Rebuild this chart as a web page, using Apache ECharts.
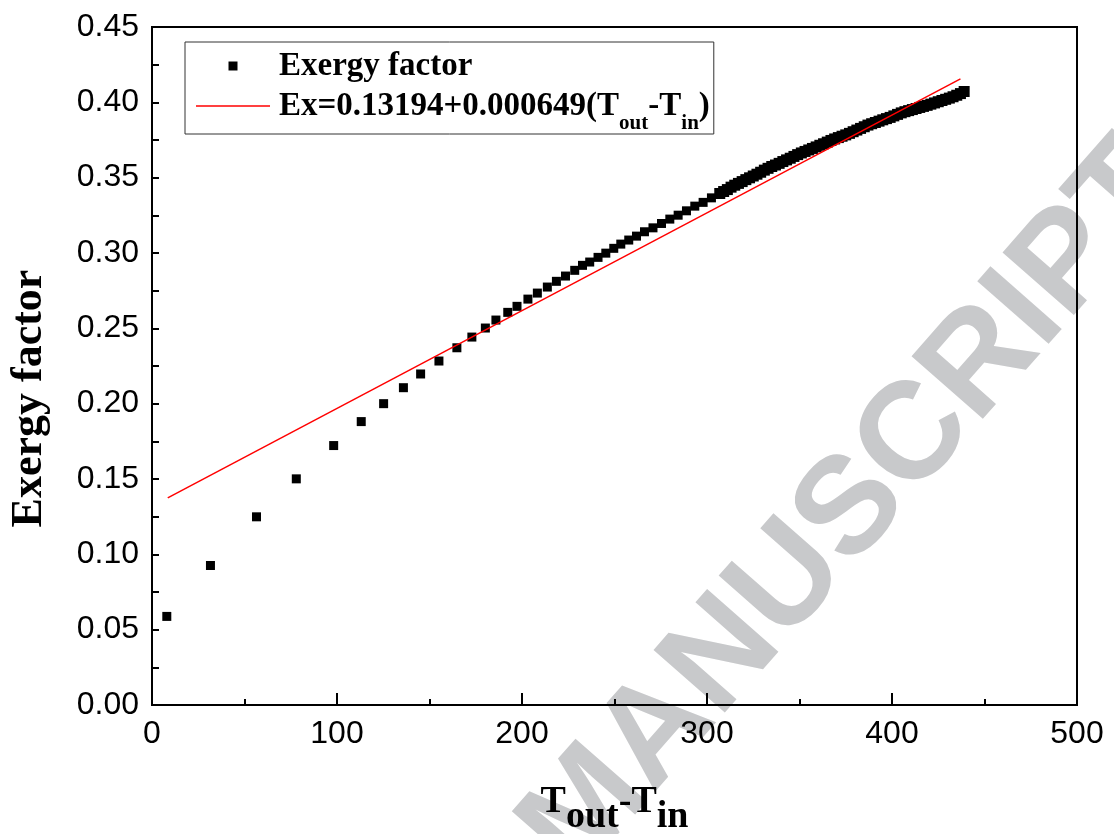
<!DOCTYPE html>
<html>
<head>
<meta charset="utf-8">
<script src="https://cdn.jsdelivr.net/npm/echarts@6/dist/echarts.min.js"></script>
<style>
html,body{margin:0;padding:0;background:#ffffff;}
#chart{width:1114px;height:834px;}
</style>
</head>
<body>
<div id="chart"></div>
<script>
// ---- data ----
const deltaT = [
  8.0, 31.6, 56.5, 78.0, 98.2, 113.1, 125.2, 135.9, 145.2, 155.1,
  164.8, 172.9, 180.2, 185.9, 192.3, 197.3, 203.2, 208.3, 213.7, 218.6,
  223.5, 228.5, 232.7, 236.6, 241.1, 245.3, 249.6, 253.4, 257.7, 261.9,
  266.2, 270.8, 275.4, 279.9, 284.4, 288.9, 293.4, 297.9, 302.4, 306.9,
  309, 311, 313, 315, 317, 319, 321, 323, 325, 327,
  329, 331, 333, 335, 337, 339, 341, 343, 345, 347,
  349, 351, 353, 355, 357, 359, 361, 363, 365, 367,
  369, 371, 373, 375, 377, 379, 381, 383, 385, 387,
  389, 391, 393, 395, 397, 399, 401, 403, 405, 407,
  409, 411, 413, 415, 417, 419, 421, 423, 425, 427,
  429, 431, 433, 435, 437, 439
];
const exergyFactor = [
  0.0588, 0.0926, 0.1249, 0.1501, 0.1722, 0.1881, 0.2000, 0.2106, 0.2197, 0.2283,
  0.2371, 0.2442, 0.2502, 0.2555, 0.2606, 0.2646, 0.2694, 0.2734, 0.2774, 0.2812,
  0.2847, 0.2885, 0.2918, 0.2940, 0.2971, 0.2999, 0.3031, 0.3059, 0.3086, 0.3112,
  0.3141, 0.3167, 0.3196, 0.3225, 0.3251, 0.3280, 0.3311, 0.3336, 0.3366, 0.3395,
  0.3408, 0.3421, 0.3437, 0.3450, 0.3462, 0.3474, 0.3487, 0.3499, 0.3511, 0.3523,
  0.3536, 0.3550, 0.3562, 0.3574, 0.3584, 0.3595, 0.3607, 0.3618, 0.3629, 0.3641,
  0.3653, 0.3664, 0.3674, 0.3684, 0.3694, 0.3704, 0.3715, 0.3725, 0.3736, 0.3747,
  0.3757, 0.3766, 0.3775, 0.3784, 0.3794, 0.3805, 0.3816, 0.3827, 0.3838, 0.3849,
  0.3858, 0.3866, 0.3875, 0.3884, 0.3892, 0.3900, 0.3910, 0.3920, 0.3930, 0.3938,
  0.3945, 0.3952, 0.3959, 0.3966, 0.3973, 0.3980, 0.3988, 0.3996, 0.4004, 0.4012,
  0.4020, 0.4028, 0.4037, 0.4047, 0.4058, 0.4072
];
// fitted line end points (as drawn)
const fitDeltaT = [8.5, 437.0];
const fitExergy = [0.1375, 0.4156];

const xTickLabels = ['0', '100', '200', '300', '400', '500'];
const yTickLabels = ['0.00','0.05','0.10','0.15','0.20','0.25','0.30','0.35','0.40','0.45'];

const scatterName = 'Exergy factor';
const fitName = 'Ex=0.13194+0.000649(Tout-Tin)';

// ---- chart ----
const chart = echarts.init(document.getElementById('chart'), null, {renderer: 'canvas'});
const serif = '"Liberation Serif", "Times New Roman", serif';
const sans = '"Liberation Sans", Arial, sans-serif';

const scatterData = deltaT.map((x, i) => [x, exergyFactor[i]]);
const fitData = fitDeltaT.map((x, i) => [x, fitExergy[i]]);

const legendMain = {fontFamily: serif, fontWeight: 'bold', fontSize: 33, color: '#000', lineHeight: 36, verticalAlign: 'middle'};

const option = {
  backgroundColor: '#ffffff',
  animation: false,
  grid: {
    left: 152, right: 37, top: 27, bottom: 129,
    show: true, borderColor: '#000', borderWidth: 2,
    containLabel: false, outerBoundsMode: 'none'
  },
  legend: {
    orient: 'vertical',
    left: 185, top: 42,
    borderColor: '#333', borderWidth: 1,
    padding: [6, 4, 0, 11],
    itemWidth: 74, itemHeight: 9, itemGap: 4,
    symbolKeepAspect: true,
    textStyle: {
      fontFamily: serif, fontWeight: 'bold', fontSize: 33, color: '#000',
      lineHeight: 36,
      rich: {
        f: Object.assign({}, legendMain, {padding: [0, 0, 0, 4]}),
        m: legendMain,
        s: {fontFamily: serif, fontWeight: 'bold', fontSize: 21, color: '#000', lineHeight: 1, verticalAlign: 'top', padding: [25, 0, 0, 0]}
      }
    },
    formatter: function (name) {
      if (name === fitName) {
        return '{f|Ex=0.13194+0.000649(T}{s|out}{m|-T}{s|in}{m|)}';
      }
      return '{f|' + name + '}';
    },
    data: [
      {name: scatterName, icon: 'path://M0 0H8V8H0Z', itemStyle: {color: '#000'}},
      {name: fitName, icon: 'path://M0 0H74V1.5H0Z', itemStyle: {color: '#ff0000'}}
    ]
  },
  xAxis: {
    type: 'value', min: 0, max: 500, interval: 100,
    name: '{m|T}{s|out}{m|-T}{s|in}',
    nameLocation: 'middle', nameGap: 76,
    nameTextStyle: {
      rich: {
        m: {fontFamily: serif, fontWeight: 'bold', fontSize: 38, color: '#000', lineHeight: 42, verticalAlign: 'middle'},
        s: {fontFamily: serif, fontWeight: 'bold', fontSize: 38, color: '#000', lineHeight: 1, verticalAlign: 'top', padding: [17, 0, 0, 0]}
      }
    },
    axisLine: {show: true, onZero: false, lineStyle: {color: '#000', width: 2}},
    axisTick: {show: true, inside: true, length: 12, lineStyle: {color: '#000', width: 2}},
    minorTick: {show: true, splitNumber: 2, length: 6, lineStyle: {color: '#000', width: 2}},
    splitLine: {show: false},
    axisLabel: {
      margin: 13, fontFamily: sans, fontSize: 32, color: '#000',
      formatter: function (v) { return xTickLabels[Math.round(v / 100)]; }
    }
  },
  yAxis: {
    type: 'value', min: 0, max: 0.45, interval: 0.05,
    name: 'Exergy factor',
    nameLocation: 'middle', nameGap: 100, nameRotate: 90,
    nameTextStyle: {
      fontFamily: serif, fontWeight: 'bold', fontSize: 44, color: '#000',
      lineHeight: 44, padding: [0, 65, 0, 0]
    },
    axisLine: {show: true, onZero: false, lineStyle: {color: '#000', width: 2}},
    axisTick: {show: true, inside: true, length: 7, lineStyle: {color: '#000', width: 2}},
    minorTick: {show: true, splitNumber: 2, length: 7, lineStyle: {color: '#000', width: 2}},
    splitLine: {show: false},
    axisLabel: {
      margin: 13, fontFamily: sans, fontSize: 32, color: '#000',
      formatter: function (v) { return yTickLabels[Math.round(v / 0.05)]; }
    }
  },
  graphic: [{
    type: 'text',
    z: -10,
    x: 852, y: 510,
    rotation: 0.85,
    silent: true,
    style: {
      text: 'MANUSCRIPT',
      font: 'bold 138px "Liberation Sans", Arial, sans-serif',
      fill: '#c8c9cb',
      align: 'center',
      verticalAlign: 'middle'
    }
  }],
  series: [
    {
      name: scatterName,
      type: 'scatter',
      data: scatterData,
      symbol: 'rect',
      // the densely measured upper range forms a thicker band in the reference
      symbolSize: function (v) { return v[0] > 305 ? 11 : 9; },
      itemStyle: {color: '#000', opacity: 1},
      z: 3
    },
    {
      name: fitName,
      type: 'line',
      data: fitData,
      showSymbol: false,
      symbol: 'none',
      lineStyle: {color: '#ff0000', width: 1.5},
      itemStyle: {color: '#ff0000'},
      z: 4
    }
  ]
};
chart.setOption(option);
</script>
</body>
</html>
